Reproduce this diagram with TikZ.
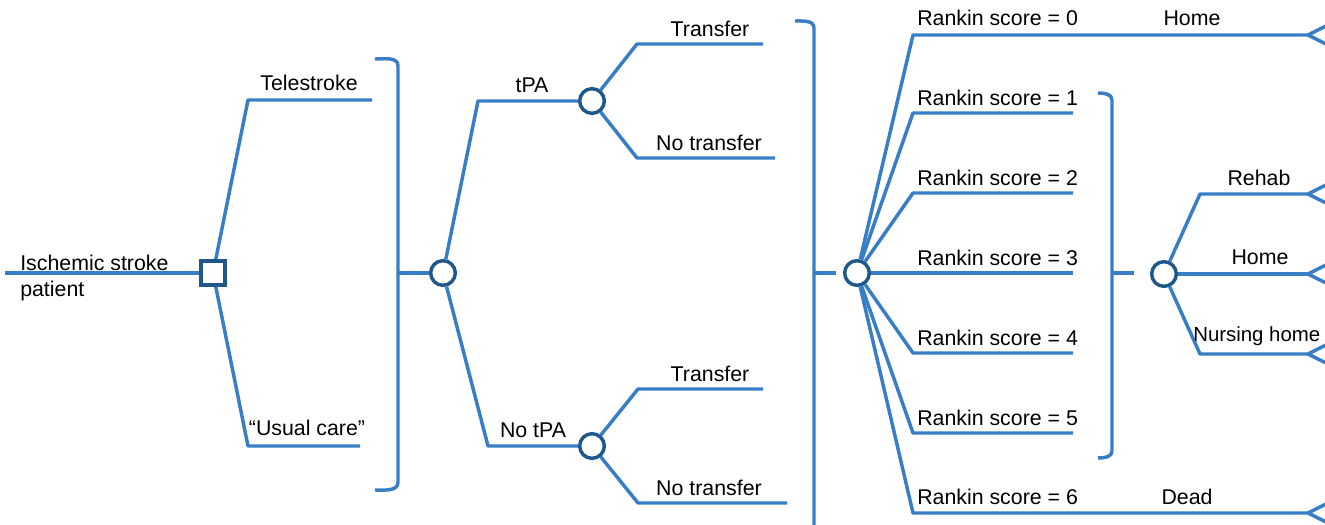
\documentclass[tikz,border=0pt]{standalone}
\usepackage{fontspec}
\setmainfont{Liberation Sans}
\usetikzlibrary{calc}
\definecolor{lineblue}{RGB}{55,126,198}
\definecolor{nodeblue}{RGB}{30,88,138}
\begin{document}
\begin{tikzpicture}[x=0.75pt,y=-0.75pt,
  br/.style={draw=lineblue,line width=2.6pt,line join=round},
  chance/.style={circle,draw=nodeblue,fill=white,line width=2.6pt,minimum size=18.5pt,inner sep=0pt},
  decision/.style={rectangle,draw=nodeblue,fill=white,line width=2.6pt,minimum size=18pt,inner sep=0pt},
  lbl/.style={font=\fontsize{16}{19}\selectfont,inner sep=0pt,anchor=base},
  lblw/.style={lbl,anchor=base west},
  term/.style={draw=lineblue,line width=2.6pt,line join=round}]
\useasboundingbox (0,0) rectangle (1325,525);

% nodes
\node[decision] (sq) at (213,273) {};
\node[chance] (c1) at (443,273) {};
\node[chance] (ctpa) at (592,101) {};
\node[chance] (cnotpa) at (592,446) {};
\node[chance] (c3) at (857,273) {};
\node[chance] (c4) at (1164,274) {};

\coordinate (root) at (5,273);
\coordinate (tele) at (372,100);
\coordinate (usual) at (360,446);
\coordinate (trA) at (763,44);
\coordinate (ntrA) at (775,158);
\coordinate (trB) at (763,389);
\coordinate (ntrB) at (787,503);
\coordinate (t0) at (1308,35);
\coordinate (r1) at (1073,113);
\coordinate (r2) at (1073,193);
\coordinate (r3) at (1073,273);
\coordinate (r4) at (1073,353);
\coordinate (r5) at (1073,433);
\coordinate (t6) at (1308,513);
\coordinate (tReh) at (1308,194);
\coordinate (tHome) at (1308,274);
\coordinate (tNur) at (1308,354);

% connectors
\draw[br] (root) -- (sq);
\draw[br] (sq) -- (248,100) -- (tele);
\draw[br] (sq) -- (248,446) -- (usual);
\draw[br] (c1) -- (478,101) -- (ctpa);
\draw[br] (c1) -- (488,446) -- (cnotpa);
\draw[br] (ctpa) -- (637,44) -- (trA);
\draw[br] (ctpa) -- (637,158) -- (ntrA);
\draw[br] (cnotpa) -- (638,389) -- (trB);
\draw[br] (cnotpa) -- (638,503) -- (ntrB);
\draw[br] (c3) -- (913,35) -- (t0);
\draw[br] (c3) -- (913,113) -- (r1);
\draw[br] (c3) -- (913,193) -- (r2);
\draw[br] (c3) -- (r3);
\draw[br] (c3) -- (913,353) -- (r4);
\draw[br] (c3) -- (913,433) -- (r5);
\draw[br] (c3) -- (913,513) -- (t6);
\draw[br] (c4) -- (1200,194) -- (tReh);
\draw[br] (c4) -- (tHome);
\draw[br] (c4) -- (1200,354) -- (tNur);

% brackets
\draw[br] (375,59) to[out=0,in=90] (398,66) -- (398,482) to[out=-90,in=0] (375,490);
\draw[br] (398,273) -- (c1.west);
\draw[br] (795,21) to[out=0,in=90] (814,28) -- (814,530);
\draw[br] (814,273) -- (836,273);
\draw[br] (1098,93) to[out=0,in=90] (1112,100) -- (1112,451) to[out=-90,in=0] (1098,458);
\draw[br] (1112,273) -- (1134,273);

% terminal nodes
\foreach \t in {t0,t6,tReh,tHome,tNur}{
  \draw[term] ($(\t)+(22,-11)$) -- (\t) -- ($(\t)+(22,11)$);
}

% labels
\node[lblw] (l0a) at (20,270) {Ischemic stroke};
\node[lblw] (l0b) at (20,296) {patient};
\node[lbl] (lt) at (309,90) {Telestroke};
\node[lbl] (lu) at (307,435) {“Usual care”};
\node[lbl] (ltpa) at (532,92) {tPA};
\node[lbl] (lnotpa) at (533,437) {No tPA};
\node[lbl] (ltrA) at (710,36) {Transfer};
\node[lbl] (lntrA) at (709,150) {No transfer};
\node[lbl] (ltrB) at (710,381) {Transfer};
\node[lbl] (lntrB) at (709,495) {No transfer};
\node[lblw] (rk0) at (917,25) {Rankin score = 0};
\node[lblw] (rk1) at (917,105) {Rankin score = 1};
\node[lblw] (rk2) at (917,185) {Rankin score = 2};
\node[lblw] (rk3) at (917,265) {Rankin score = 3};
\node[lblw] (rk4) at (917,345) {Rankin score = 4};
\node[lblw] (rk5) at (917,425) {Rankin score = 5};
\node[lblw] (rk6) at (917,504) {Rankin score = 6};
\node[lbl] (lhome0) at (1192,25) {Home};
\node[lbl] (ldead) at (1187,504) {Dead};
\node[lbl] (lreh) at (1259,185) {Rehab};
\node[lbl] (lhome) at (1260,264) {Home};
\node[lblw,font=\fontsize{15.3}{18}\selectfont] (lnur) at (1193,341) {Nursing home};
\end{tikzpicture}
\end{document}
